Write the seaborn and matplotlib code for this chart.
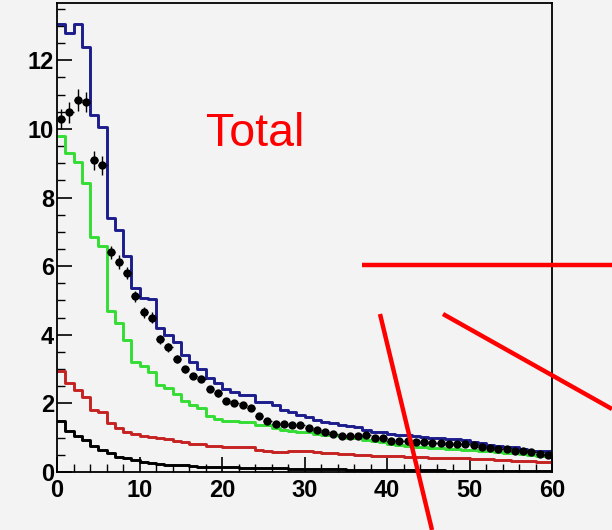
import numpy as np
import pandas as pd
import matplotlib
matplotlib.use("Agg")
import matplotlib.pyplot as plt
import seaborn as sns
from matplotlib.lines import Line2D
from matplotlib.ticker import MultipleLocator

# ---------------- data ----------------
bin_edges = list(range(0, 61))
bin_centers = [i + 0.5 for i in range(60)]

blue = [13.05, 12.8, 13.05, 12.4, 10.4, 10.05, 7.4, 7.05, 6.3, 5.35,
        5.08, 5.05, 4.2, 4.0, 3.78, 3.4, 3.22, 3.0, 2.75, 2.6,
        2.42, 2.34, 2.25, 2.25, 2.05, 2.05, 1.96, 1.82, 1.74, 1.65,
        1.6, 1.53, 1.46, 1.42, 1.38, 1.33, 1.3, 1.23, 1.18, 1.16,
        1.12, 1.09, 1.08, 1.05, 1.03, 1.0, 0.98, 0.97, 0.95, 0.92,
        0.88, 0.84, 0.8, 0.76, 0.74, 0.72, 0.68, 0.62, 0.6, 0.6]

green = [9.8, 9.3, 9.05, 8.43, 6.85, 6.6, 4.68, 4.35, 3.86, 3.22,
         3.08, 2.92, 2.55, 2.45, 2.28, 2.07, 1.95, 1.86, 1.64, 1.55,
         1.5, 1.5, 1.47, 1.45, 1.38, 1.36, 1.29, 1.22, 1.2, 1.18,
         1.17, 1.12, 1.09, 1.07, 1.04, 1.0, 0.98, 0.93, 0.9, 0.86,
         0.82, 0.78, 0.76, 0.74, 0.72, 0.71, 0.69, 0.68, 0.66, 0.65,
         0.64, 0.62, 0.6, 0.58, 0.56, 0.54, 0.52, 0.5, 0.48, 0.46]

red = [2.95, 2.6, 2.4, 2.2, 1.82, 1.74, 1.44, 1.29, 1.18, 1.12,
       1.05, 1.03, 0.98, 0.96, 0.9, 0.88, 0.83, 0.81, 0.76, 0.75,
       0.74, 0.74, 0.73, 0.72, 0.64, 0.62, 0.58, 0.57, 0.6, 0.6,
       0.6, 0.58, 0.55, 0.54, 0.53, 0.52, 0.5, 0.49, 0.48, 0.47,
       0.46, 0.46, 0.45, 0.44, 0.43, 0.42, 0.42, 0.41, 0.4, 0.4,
       0.39, 0.38, 0.37, 0.36, 0.34, 0.33, 0.32, 0.31, 0.3, 0.3]

black = [1.48, 1.2, 1.04, 0.92, 0.75, 0.65, 0.55, 0.45, 0.4, 0.35,
         0.3, 0.27, 0.23, 0.21, 0.2, 0.19, 0.17, 0.16, 0.16, 0.15,
         0.14, 0.14, 0.13, 0.13, 0.12, 0.12, 0.11, 0.11, 0.1, 0.1,
         0.09, 0.09, 0.08, 0.08, 0.08, 0.07, 0.07, 0.07, 0.06, 0.06,
         0.06, 0.06, 0.05, 0.05, 0.05, 0.05, 0.05, 0.04, 0.04, 0.04,
         0.04, 0.04, 0.04, 0.03, 0.03, 0.03, 0.03, 0.03, 0.03, 0.03]

data = [10.29, 10.48, 10.83, 10.79, 9.08, 8.94, 6.4, 6.12, 5.8, 5.12,
        4.65, 4.5, 3.87, 3.63, 3.3, 3.0, 2.8, 2.7, 2.41, 2.29,
        2.08, 2.0, 1.96, 1.87, 1.64, 1.48, 1.41, 1.41, 1.38, 1.38,
        1.27, 1.22, 1.18, 1.1, 1.06, 1.04, 1.06, 1.07, 0.99, 0.98,
        0.91, 0.91, 0.89, 0.87, 0.86, 0.85, 0.84, 0.83, 0.82, 0.81,
        0.8, 0.72, 0.7, 0.68, 0.67, 0.62, 0.6, 0.58, 0.52, 0.5]

data_err = [0.3, 0.3, 0.32, 0.3, 0.28, 0.28, 0.2, 0.2, 0.18, 0.16,
            0.15, 0.15, 0.13, 0.12, 0.11, 0.1, 0.1, 0.09, 0.09, 0.09,
            0.08, 0.08, 0.08, 0.08, 0.07, 0.07, 0.07, 0.07, 0.07, 0.07,
            0.06, 0.06, 0.06, 0.06, 0.06, 0.06, 0.06, 0.06, 0.06, 0.06,
            0.05, 0.05, 0.05, 0.05, 0.05, 0.05, 0.05, 0.05, 0.05, 0.05,
            0.05, 0.05, 0.05, 0.05, 0.05, 0.05, 0.05, 0.05, 0.05, 0.05]

series_names = ["blue", "green", "red", "black"]
series_colors = {"blue": "#1c1c8c", "green": "#33dd33",
                 "red": "#c62222", "black": "#000000"}
x_ticks = [0, 10, 20, 30, 40, 50, 60]
y_ticks = [0, 2, 4, 6, 8, 10, 12]
label_text = "Total"

BG = "#f3f3f3"

# ---------------- figure ----------------
sns.set_theme(style="ticks")
plt.rcParams["font.family"] = ["Liberation Sans", "DejaVu Sans"]

fig = plt.figure(figsize=(6.12, 5.30), dpi=100, facecolor=BG)
ax = fig.add_axes([57 / 612, 58 / 530, 495 / 612, 469 / 530])
ax.set_facecolor(BG)

df = pd.DataFrame({
    "x": bin_centers * 4,
    "w": blue + green + red + black,
    "series": sum([[n] * 60 for n in series_names], []),
})

sns.histplot(data=df, x="x", weights="w", hue="series",
             hue_order=series_names, palette=series_colors,
             bins=bin_edges, element="step", fill=False,
             linewidth=2.1, legend=False, ax=ax)

ax.errorbar(bin_centers, data, yerr=data_err, xerr=0.5, fmt="none",
            ecolor="black", elinewidth=1.0, capsize=0, zorder=6)
sns.scatterplot(x=bin_centers, y=data, color="black", s=36,
                marker="o", edgecolor="black", linewidth=0, zorder=7, ax=ax)

ax.set_xlim(0, 60)
ax.set_ylim(0, 13.67)
ax.set_xlabel("")
ax.set_ylabel("")
ax.set_xticks(x_ticks)
ax.set_yticks(y_ticks)
ax.set_xticklabels([str(t) for t in x_ticks], fontweight="bold", fontsize=17)
ax.set_yticklabels([str(t) for t in y_ticks], fontweight="bold", fontsize=17)
ax.xaxis.set_minor_locator(MultipleLocator(2))
ax.yaxis.set_minor_locator(MultipleLocator(0.5))
ax.tick_params(axis="both", which="both", direction="in", colors="black",
               top=False, right=False)
ax.tick_params(axis="x", which="major", length=11, width=1.2, pad=5)
ax.tick_params(axis="x", which="minor", length=5.5, width=1.0)
ax.tick_params(axis="y", which="major", length=11, width=1.2, pad=2)
ax.tick_params(axis="y", which="minor", length=5.5, width=1.0)
for s in ax.spines.values():
    s.set_visible(True)
    s.set_color("black")
    s.set_linewidth(1.3)

fig.text(206 / 612, 1 - 146 / 530, label_text, color="#ff0000",
         fontsize=33.5, ha="left", va="baseline")

# red annotation strokes drawn over the figure
for (x0, y0), (x1, y1) in [((362, 265), (612, 265)),
                           ((443, 314), (612, 409)),
                           ((380, 314), (432, 530))]:
    fig.add_artist(Line2D([x0 / 612, x1 / 612], [1 - y0 / 530, 1 - y1 / 530],
                          transform=fig.transFigure, color="#ff0000",
                          linewidth=3.2, solid_capstyle="butt", zorder=20))

fig.savefig("out.png", dpi=100, facecolor=BG)
